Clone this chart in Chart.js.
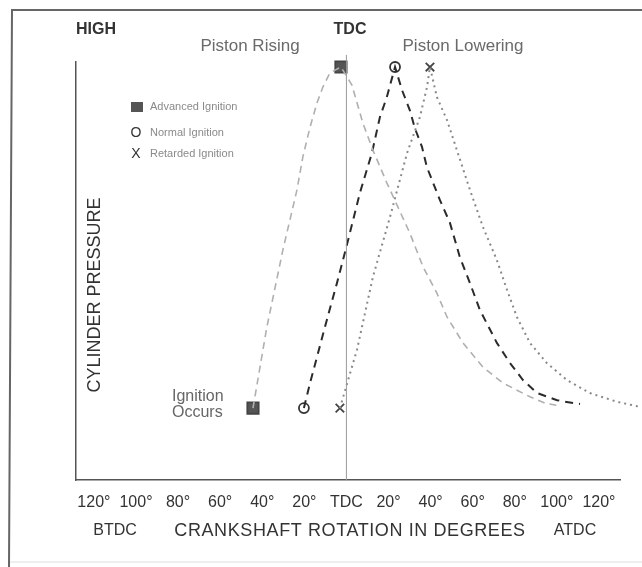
<!DOCTYPE html>
<html>
<head>
<meta charset="utf-8">
<title>Cylinder pressure vs crankshaft rotation</title>
<script src="https://cdn.jsdelivr.net/npm/chart.js@4.4.1/dist/chart.umd.min.js"></script>
<style>
  html, body { margin: 0; padding: 0; background: #fff; }
</style>
</head>
<body>
<canvas id="pressure-chart" width="642" height="567"></canvas>
<script>
// Crank angle in degrees (negative = before TDC), pressure on a 0-100 scale
const advancedDeg = [-44.4, -37.8, -30.2, -23.5, -20.7, -17.3, -14.0, -11.2, -7.8, -2.6, 2.6, 7.8, 12.6, 19.2, 30.1, 36.4, 43.0, 47.8, 55.4, 64.9, 74.4, 87.2, 94.4, 101.6];
const advancedPressure = [17.2, 36.6, 55.0, 69.4, 77.3, 84.4, 90.2, 94.0, 97.4, 98.8, 94.5, 85.4, 78.9, 71.1, 59.1, 51.0, 44.7, 39.0, 32.8, 27.0, 23.2, 19.9, 18.4, 17.7];

const normalDeg = [-20.2, -17.3, -14.0, -9.3, -4.5, 0.2, 6.4, 12.1, 15.9, 19.2, 23.1, 26.4, 30.1, 32.5, 35.9, 38.2, 44.4, 49.2, 53.9, 58.7, 63.4, 71.5, 77.7, 83.9, 90.6, 100.1, 107.7, 111.0];
const normalPressure = [17.2, 23.2, 29.4, 38.3, 47.1, 56.2, 68.7, 78.2, 86.8, 91.6, 98.8, 93.3, 88.5, 84.2, 79.7, 74.9, 67.0, 61.5, 53.3, 47.1, 40.7, 32.8, 28.0, 23.9, 20.8, 19.1, 18.4, 18.2];

const retardedDeg = [-3.1, 5.0, 12.6, 20.7, 28.8, 34.9, 38.3, 39.7, 43.0, 47.8, 52.5, 58.7, 64.9, 71.5, 76.3, 81.0, 87.2, 95.2, 104.8, 115.7, 128.6, 139.5];
const retardedPressure = [17.2, 31.1, 48.6, 62.9, 78.2, 86.8, 94.0, 98.8, 91.6, 86.1, 78.9, 69.4, 60.5, 52.6, 45.5, 39.0, 32.8, 28.0, 23.9, 20.8, 18.7, 17.5];

// markers: [advanced, normal, retarded]
const ignitionDeg = [-44.4, -20.2, -3.1];
const ignitionPressure = [17.2, 17.2, 17.2];
const peakDeg = [-2.6, 23.1, 39.7];
const peakPressure = [98.8, 98.8, 98.8];

const tickDegrees = [-120, -100, -80, -60, -40, -20, 0, 20, 40, 60, 80, 100, 120];
const tickLabels = ["120°", "100°", "80°", "60°", "40°", "20°", "TDC", "20°", "40°", "60°", "80°", "100°", "120°"];
const legendLabels = ["Advanced Ignition", "Normal Ignition", "Retarded Ignition"];

const FONT = "'Liberation Sans', Arial, sans-serif";

function toPoints(xs, ys) {
  return xs.map((x, i) => ({ x: x, y: ys[i] }));
}

function curve(xs, ys, color, dash, width) {
  return {
    data: toPoints(xs, ys),
    showLine: true,
    borderColor: color,
    borderWidth: width,
    borderDash: dash,
    tension: 0,
    pointRadius: 0,
    clip: false
  };
}

function markers(i, style, radius, fill, stroke) {
  return {
    data: [
      { x: ignitionDeg[i], y: ignitionPressure[i] },
      { x: peakDeg[i], y: peakPressure[i] }
    ],
    showLine: false,
    pointStyle: style,
    pointRadius: radius,
    pointBackgroundColor: fill,
    pointBorderColor: stroke,
    pointBorderWidth: 1.8,
    clip: false
  };
}

// frame, headings, legend and axis captions
const diagramText = {
  id: "diagramText",
  beforeDraw(chart) {
    const ctx = chart.ctx;
    ctx.save();
    ctx.fillStyle = "#fff";
    ctx.fillRect(0, 0, chart.width, chart.height);
    ctx.strokeStyle = "#666";
    ctx.lineWidth = 2;
    ctx.beginPath();
    ctx.moveTo(chart.width, 10);
    ctx.lineTo(12, 10);
    ctx.lineTo(9, chart.height);
    ctx.stroke();
    ctx.strokeStyle = "#ddd";
    ctx.lineWidth = 1;
    ctx.beginPath();
    ctx.moveTo(10, 562);
    ctx.lineTo(chart.width, 562);
    ctx.stroke();
    ctx.restore();
  },
  afterDraw(chart) {
    const ctx = chart.ctx;
    ctx.save();
    ctx.textBaseline = "middle";

    ctx.fillStyle = "#333";
    ctx.font = "bold 16px " + FONT;
    ctx.textAlign = "left";
    ctx.fillText("HIGH", 76, 30);
    ctx.textAlign = "center";
    ctx.fillText("TDC", 350, 30);

    ctx.fillStyle = "#6a6a6a";
    ctx.font = "17px " + FONT;
    ctx.fillText("Piston Rising", 250, 46);
    ctx.fillText("Piston Lowering", 463, 46);

    // legend
    ctx.fillStyle = "#555";
    ctx.fillRect(131, 102, 12, 10);
    ctx.fillStyle = "#333";
    ctx.font = "14px " + FONT;
    ctx.fillText("O", 136, 133);
    ctx.fillText("X", 136, 154);
    ctx.fillStyle = "#8a8a8a";
    ctx.font = "11px " + FONT;
    ctx.textAlign = "left";
    ctx.fillText(legendLabels[0], 150, 107);
    ctx.fillText(legendLabels[1], 150, 133);
    ctx.fillText(legendLabels[2], 150, 154);

    ctx.fillStyle = "#666";
    ctx.font = "16px " + FONT;
    ctx.fillText("Ignition", 172, 397);
    ctx.fillText("Occurs", 172, 413);

    // axis captions
    ctx.fillStyle = "#333";
    ctx.save();
    ctx.translate(95, 295);
    ctx.rotate(-Math.PI / 2);
    ctx.textAlign = "center";
    ctx.font = "18px " + FONT;
    ctx.fillText("CYLINDER PRESSURE", 0, 0);
    ctx.restore();

    ctx.textAlign = "center";
    ctx.font = "16px " + FONT;
    ctx.fillText("BTDC", 115, 531);
    ctx.fillText("ATDC", 575, 531);
    ctx.font = "18px " + FONT;
    ctx.letterSpacing = "0.6px";
    ctx.fillText("CRANKSHAFT ROTATION IN DEGREES", 350, 531);
    ctx.restore();
  }
};

new Chart(document.getElementById("pressure-chart"), {
  type: "scatter",
  data: {
    datasets: [
      // TDC reference line
      {
        data: [{ x: 0, y: 0 }, { x: 0, y: 101.7 }],
        showLine: true,
        borderColor: "#999",
        borderWidth: 1,
        pointRadius: 0,
        clip: false
      },
      curve(advancedDeg, advancedPressure, "#b0b0b0", [7, 5], 1.6),
      curve(retardedDeg, retardedPressure, "#888", [2, 4], 2),
      curve(normalDeg, normalPressure, "#2b2b2b", [8, 6], 2),
      markers(0, "rect", 8, "#555", "#444"),
      markers(1, "circle", 5, "#fff", "#333"),
      markers(2, "crossRot", 6, "#fff", "#444")
    ]
  },
  options: {
    responsive: false,
    animation: false,
    layout: { padding: { top: 62, right: 22, left: 0, bottom: 0 } },
    plugins: {
      legend: { display: false },
      tooltip: { enabled: false }
    },
    scales: {
      x: {
        type: "linear",
        min: -128.5,
        max: 130,
        afterBuildTicks: (scale) => {
          scale.ticks = tickDegrees.map((v) => ({ value: v }));
        },
        afterFit: (scale) => {
          scale.height = 87;
        },
        grid: { display: false, drawTicks: false },
        border: { display: true, color: "#555", width: 1.5 },
        ticks: {
          padding: 13,
          color: "#333",
          autoSkip: false,
          maxRotation: 0,
          font: { family: FONT, size: 16 },
          callback: (value) => tickLabels[tickDegrees.indexOf(value)]
        }
      },
      y: {
        min: 0,
        max: 100,
        afterFit: (scale) => {
          scale.width = 76;
        },
        grid: { display: false, drawTicks: false },
        border: { display: true, color: "#555", width: 1.5 },
        ticks: { display: false }
      }
    }
  },
  plugins: [diagramText]
});
</script>
</body>
</html>
